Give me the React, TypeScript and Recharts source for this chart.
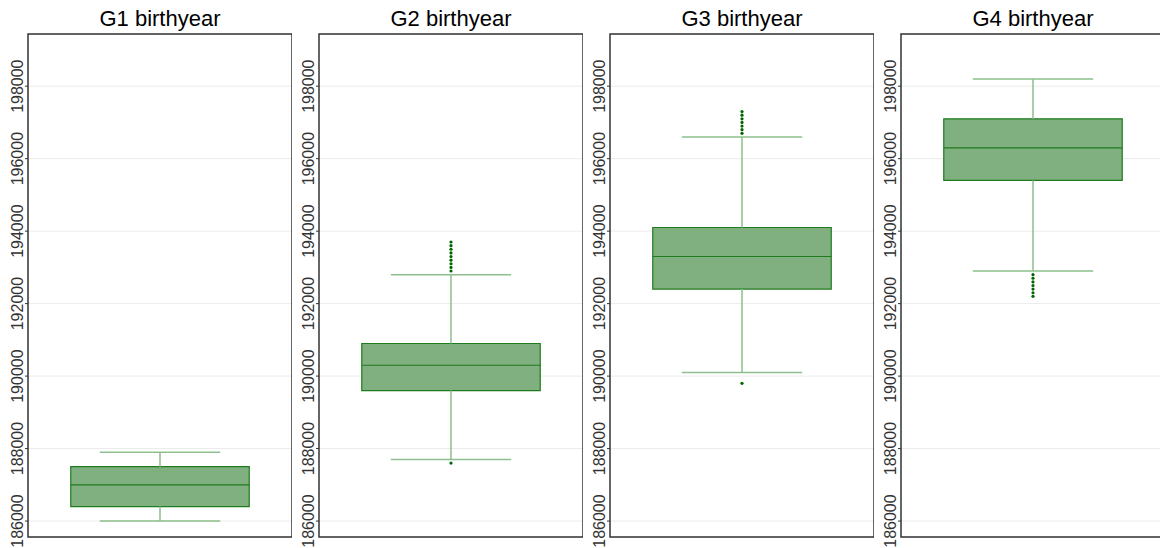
import React from "react";
import {
  CartesianGrid,
  ComposedChart,
  ReferenceArea,
  ReferenceLine,
  Scatter,
  XAxis,
  YAxis,
} from "recharts";

const groups = ["G1", "G2", "G3", "G4"];
const whiskerLow = [186000, 187700, 190100, 192900];
const q1 = [186400, 189600, 192400, 195400];
const median = [187000, 190300, 193300, 196300];
const q3 = [187500, 190900, 194100, 197100];
const whiskerHigh = [187900, 192800, 196600, 198200];
const outliers = [
  [],
  [193700, 193600, 193500, 193400, 193300, 193200, 193100, 193000, 192900, 187600],
  [197300, 197200, 197100, 197000, 196900, 196800, 196700, 189800],
  [192800, 192700, 192600, 192500, 192400, 192300, 192200],
];
const yTicks = [186000, 188000, 190000, 192000, 194000, 196000, 198000];
const yDomain = [185560, 199440];
const xDomain = [-0.5, 0.5];

const BOX_HALF = 0.338;
const CAP_HALF = 0.228;
const FRAME = "#333333";
const DARK_GREEN = "#1e7b1e";
const WHISKER = "#8dbf8d";

const RotatedTick = (props: any) => {
  const { x, y, payload } = props;
  return (
    <text
      x={x}
      y={y}
      transform={`rotate(-90, ${x}, ${y})`}
      textAnchor="middle"
      fontSize={16}
      fill="#333333"
      fontFamily="Liberation Sans, Arial, sans-serif"
    >
      {payload.value}
    </text>
  );
};

const Panel = ({ i }: { i: number }) => {
  // the median row keeps the chart non-empty when a group has no outliers
  const points = [{ x: 0, y: median[i], hidden: true }].concat(
    outliers[i].map((v) => ({ x: 0, y: v, hidden: false }))
  );
  return (
    <div style={{ position: "absolute", left: i * 291, top: 0, width: 292, height: 548 }}>
      <div
        style={{
          position: "absolute",
          left: 28,
          top: 8,
          width: 264,
          textAlign: "center",
          fontSize: 22,
          lineHeight: "22px",
          fontFamily: "Liberation Sans, Arial, sans-serif",
          color: "#000",
        }}
      >
        {groups[i]} birthyear
      </div>
      <ComposedChart
        width={292}
        height={548}
        data={points}
        margin={{ top: 34, right: 0, bottom: 11, left: 0 }}
      >
        <CartesianGrid vertical={false} stroke="#ebebeb" />
        <XAxis type="number" dataKey="x" domain={xDomain} allowDataOverflow hide />
        <YAxis
          type="number"
          dataKey="y"
          domain={yDomain}
          ticks={yTicks}
          interval={0}
          allowDataOverflow
          width={28}
          tickSize={3}
          tickMargin={2}
          tick={<RotatedTick />}
          tickLine={{ stroke: FRAME }}
          axisLine={false}
        />
        <ReferenceLine
          segment={[{ x: 0, y: whiskerLow[i] }, { x: 0, y: q1[i] }]}
          stroke={WHISKER}
          strokeWidth={1.5}
        />
        <ReferenceLine
          segment={[{ x: 0, y: q3[i] }, { x: 0, y: whiskerHigh[i] }]}
          stroke={WHISKER}
          strokeWidth={1.5}
        />
        <ReferenceLine
          segment={[{ x: -CAP_HALF, y: whiskerLow[i] }, { x: CAP_HALF, y: whiskerLow[i] }]}
          stroke={WHISKER}
          strokeWidth={1.5}
        />
        <ReferenceLine
          segment={[{ x: -CAP_HALF, y: whiskerHigh[i] }, { x: CAP_HALF, y: whiskerHigh[i] }]}
          stroke={WHISKER}
          strokeWidth={1.5}
        />
        <ReferenceArea
          x1={-BOX_HALF}
          x2={BOX_HALF}
          y1={q1[i]}
          y2={q3[i]}
          fill="#80b080"
          fillOpacity={1}
          stroke={DARK_GREEN}
          strokeWidth={1.2}
        />
        <ReferenceLine
          segment={[{ x: -BOX_HALF, y: median[i] }, { x: BOX_HALF, y: median[i] }]}
          stroke={DARK_GREEN}
          strokeWidth={1.2}
        />
        <Scatter
          dataKey="y"
          fill="#006400"
          isAnimationActive={false}
          shape={(p: any) =>
            p.payload && p.payload.hidden ? (
              <g />
            ) : (
              <circle cx={p.cx} cy={p.cy} r={1.6} fill="#006400" />
            )
          }
        />
        <ReferenceArea
          x1={xDomain[0]}
          x2={xDomain[1]}
          y1={yDomain[0]}
          y2={yDomain[1]}
          fill="none"
          stroke={FRAME}
          strokeWidth={1.5}
          ifOverflow="visible"
        />
      </ComposedChart>
    </div>
  );
};

export default function App() {
  return (
    <div
      style={{
        position: "fixed",
        left: 0,
        top: 0,
        width: 1160,
        height: 548,
        overflow: "hidden",
        background: "#fff",
      }}
    >
      {groups.map((g, i) => (
        <Panel key={g} i={i} />
      ))}
    </div>
  );
}
